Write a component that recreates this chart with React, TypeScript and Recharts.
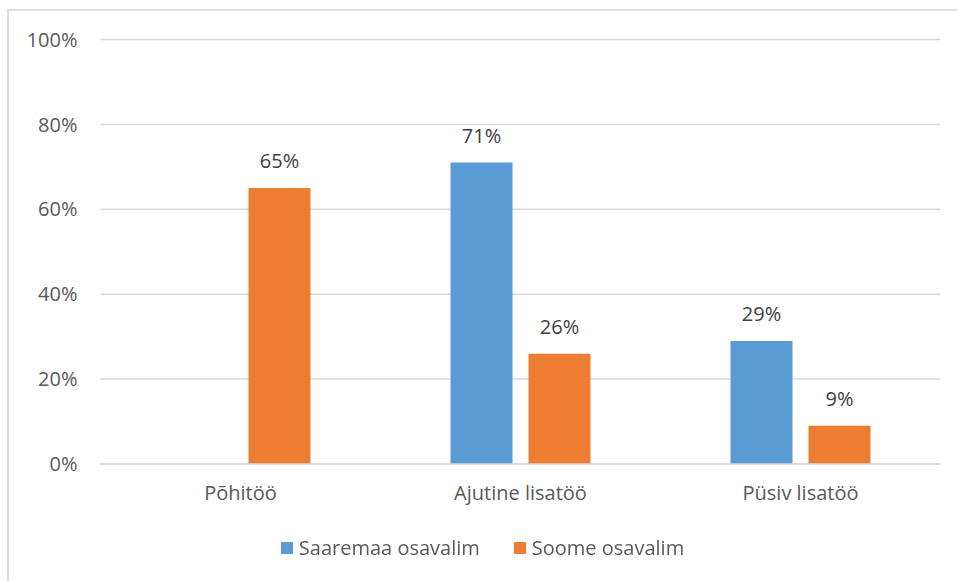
import React from 'react';
import {
  BarChart,
  Bar,
  XAxis,
  YAxis,
  CartesianGrid,
  Legend,
  LabelList,
} from 'recharts';

/* ---------- DATA ---------- */
const categories = ['Põhitöö', 'Ajutine lisatöö', 'Püsiv lisatöö'];
const saaremaaValues = [0, 71, 29];
const soomeValues = [65, 26, 9];
const yTicks = [0, 20, 40, 60, 80, 100];

const seriesNames = ['Saaremaa osavalim', 'Soome osavalim'];
const seriesColors = ['#5B9BD5', '#ED7D31'];

interface Row {
  name: string;
  saaremaa: number;
  soome: number;
}

const chartData: Row[] = categories.map((name, i) => ({
  name,
  saaremaa: saaremaaValues[i],
  soome: soomeValues[i],
}));

const FONT = '"Open Sans", "DejaVu Sans", sans-serif';

// Excel leaves the empty bar unlabelled
const pctLabel = (v: any) => (v ? `${v}%` : '');

const LegendContent = () => (
  <div
    style={{
      display: 'flex',
      justifyContent: 'center',
      alignItems: 'center',
      fontFamily: FONT,
      fontSize: 20,
      color: '#595959',
    }}
  >
    {seriesNames.map((n, i) => (
      <div
        key={n}
        style={{
          display: 'flex',
          alignItems: 'center',
          marginRight: i === 0 ? 34 : 0,
        }}
      >
        <span
          style={{
            display: 'inline-block',
            width: 12,
            height: 12,
            backgroundColor: seriesColors[i],
            marginRight: 6,
          }}
        />
        <span>{n}</span>
      </div>
    ))}
  </div>
);

export default function App() {
  return (
    <div
      style={{
        position: 'fixed',
        left: 0,
        top: 0,
        width: 957,
        height: 581,
        background: '#ffffff',
      }}
    >
      {/* frame */}
      <div
        style={{
          position: 'absolute',
          left: 7,
          top: 9,
          right: 0,
          bottom: 0,
          borderTop: '2px solid #dcdcdc',
          borderLeft: '2px solid #dcdcdc',
        }}
      />
      <div style={{ position: 'absolute', left: 0, top: 0 }}>
        <BarChart
          width={957}
          height={581}
          data={chartData}
          margin={{ top: 39.5, right: 16.5, left: 20, bottom: 87 }}
          barCategoryGap="25%"
          barGap={16}
        >
          <CartesianGrid
            vertical={false}
            stroke="#d9d9d9"
            strokeWidth={1.5}
          />
          <XAxis
            dataKey="name"
            axisLine={{ stroke: '#d9d9d9', strokeWidth: 1.5 }}
            tickLine={false}
            tickSize={0}
            tickMargin={22}
            height={30}
            tick={{ fontSize: 20, fill: '#595959', fontFamily: FONT }}
          />
          <YAxis
            domain={[0, 100]}
            ticks={yTicks}
            tickFormatter={(v: number) => `${v}%`}
            axisLine={false}
            tickLine={false}
            tickSize={0}
            tickMargin={23}
            width={80.5}
            tick={{ fontSize: 20, fill: '#595959', fontFamily: FONT }}
          />
          <Legend
            verticalAlign="middle"
            align="center"
            content={<LegendContent />}
            wrapperStyle={{ top: 534, left: 4, width: 957 }}
          />
          <Bar
            dataKey="saaremaa"
            name={seriesNames[0]}
            fill={seriesColors[0]}
            isAnimationActive={false}
          >
            <LabelList
              dataKey="saaremaa"
              position="top"
              offset={20}
              formatter={pctLabel}
              style={{ fontSize: 20, fill: '#404040', fontFamily: FONT }}
            />
          </Bar>
          <Bar
            dataKey="soome"
            name={seriesNames[1]}
            fill={seriesColors[1]}
            isAnimationActive={false}
          >
            <LabelList
              dataKey="soome"
              position="top"
              offset={20}
              formatter={pctLabel}
              style={{ fontSize: 20, fill: '#404040', fontFamily: FONT }}
            />
          </Bar>
        </BarChart>
      </div>
    </div>
  );
}
